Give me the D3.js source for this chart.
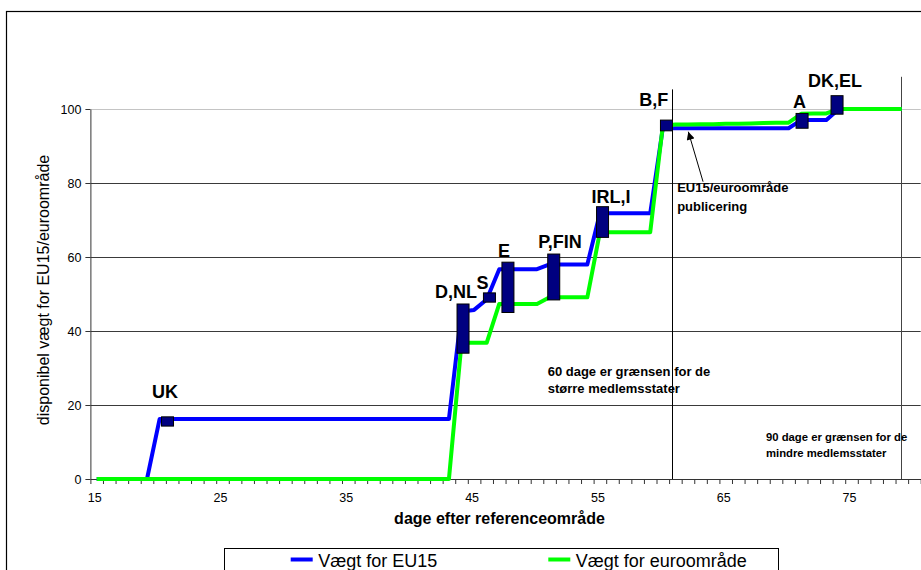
<!DOCTYPE html>
<html><head><meta charset="utf-8">
<script src="https://cdn.jsdelivr.net/npm/d3@7/dist/d3.min.js"></script>
<style>
body{margin:0;background:#fff}
svg{display:block}
text{font-family:"Liberation Sans",Arial,sans-serif;fill:#000}
</style>
</head><body>
<svg id="chart" width="921" height="570"></svg>
<script>
// ---- data ----
const categories = [15,16,17,18,19,20,21,22,23,24,25,26,27,28,29,30,31,32,33,34,35,36,37,38,39,40,41,42,43,44,45,46,47,48,49,50,51,52,53,54,55,56,57,58,59,60,61,62,63,64,65,66,67,68,69,70,71,72,73,74,75,76,77,78,79];
const eu15 = [0,0,0,0,0,
  16.2,16.2,16.2,16.2,16.2,16.2,16.2,16.2,16.2,16.2,16.2,16.2,16.2,16.2,16.2,16.2,16.2,16.2,16.2,16.2,16.2,16.2,16.2,16.2,
  45.3,45.7,48.5,56.7,56.7,56.7,56.7,58,58,58,58,71.8,71.8,71.8,71.8,71.8,
  94.8,94.8,94.8,94.8,94.8,94.8,94.8,94.8,94.8,94.8,94.8,97,97,97,100,100,100,100,100,100];
const euro = [0,0,0,0,0,0,0,0,0,0,0,0,0,0,0,0,0,0,0,0,0,0,0,0,0,0,0,0,0,
  36.8,36.8,36.8,47.3,47.3,47.3,47.3,49.1,49.1,49.1,49.1,66.7,66.7,66.7,66.7,66.7,
  95.5,95.8,95.8,95.9,95.9,96.0,96.0,96.1,96.2,96.3,96.3,98.7,98.8,98.8,100,100,100,100,100,100];
const seriesNames = ["Vægt for EU15","Vægt for euroområde"];
const xTickLabels = [15,25,35,45,55,65,75];
const yTicks = [0,20,40,60,80,100];
// country publication markers (day, high, low) and their labels
const markerNames = ["UK","D,NL","S","E","P,FIN","IRL,I","B,F","A","DK,EL"];
const markerDay   = [20.63,44.12,46.22,47.69,51.33,55.21,60.29,71.07,73.85];
const markerHigh  = [16.8,47.3,50.3,58.6,60.8,73.6,97.0,98.8,103.6];
const markerLow   = [14.3,34.0,47.8,45.0,48.4,65.3,94.1,94.8,98.6];
const labelDay    = [20.43,43.56,45.67,47.38,51.83,55.88,59.28,70.87,73.69];
const labelValue  = [21.9,48.9,51.35,60,62.43,74.6,100.8,100.2,106];
// deadline lines
const limitDay = [60.76,78.94];
const limitTop = [105.3,108.7];
const limitText = [["60 dage er grænsen for de","større medlemsstater"],["90 dage er grænsen for de","mindre medlemsstater"]];
const limitTextDay = [50.85,68.2];
const limitTextValue = [27.8,10.3];
const pubText = ["EU15/euroområde","publicering"];
const pubTextDay = 61.14, pubTextValue = 77.5;
const arrowFrom = [63.2,80.35], arrowTo = [62.03,93.86];
const xTitle = "dage efter referenceområde";
const yTitle = "disponibel vægt for EU15/euroområde";

// ---- layout ----
const svg = d3.select("#chart");
const x = d3.scaleLinear().domain([14.5,80.5]).range([90.4,920.7]);
const y = d3.scaleLinear().domain([0,100]).range([479,109]);
const colors = ["#0000ff","#00ff00"];

// outer frame
svg.append("rect").attr("x",6.5).attr("y",11.5).attr("width",1000).attr("height",1000)
  .attr("fill","none").attr("stroke","#000").attr("stroke-width",1.2);

// gridlines
svg.append("g").selectAll("line").data(yTicks.filter(v=>v>0)).join("line")
  .attr("x1",x(14.5)).attr("x2",x(80.5))
  .attr("y1",d=>Math.round(y(d))+0.5).attr("y2",d=>Math.round(y(d))+0.5)
  .attr("stroke",d=>d===100?"#c4c4c4":"#3a3a3a").attr("stroke-width",1);

// deadline lines
svg.append("g").selectAll("line").data(limitDay).join("line")
  .attr("x1",d=>Math.round(x(d))+0.5).attr("x2",d=>Math.round(x(d))+0.5)
  .attr("y1",(d,i)=>y(limitTop[i])).attr("y2",y(0))
  .attr("stroke",(d,i)=>i===0?"#000":"#444").attr("stroke-width",1);

// axes
const yAxis = svg.append("g").attr("transform",`translate(${x(14.5)},0)`)
  .call(d3.axisLeft(y).tickValues(yTicks).tickSize(5).tickPadding(4).tickSizeOuter(0));
yAxis.selectAll("text").style("font-size","12.5px");
const boundaries = d3.range(0,67).map(k=>14.5+k);
const xAxis = svg.append("g").attr("transform",`translate(0,${y(0)})`)
  .call(d3.axisBottom(x).tickValues(boundaries).tickSize(5).tickFormat("").tickSizeOuter(0));
const xLab = svg.append("g").attr("transform",`translate(-2.5,${y(0)})`)
  .call(d3.axisBottom(x).tickValues(xTickLabels).tickSize(0).tickPadding(14).tickFormat(d3.format("d")));
xLab.select(".domain").remove();
xLab.selectAll("text").style("font-size","12.5px");
[yAxis,xAxis].forEach(g=>{g.selectAll("path,line").attr("stroke","#333");});

// titles
svg.append("text").attr("x",499.5).attr("y",524).attr("text-anchor","middle")
  .style("font-size","16px").style("font-weight","bold").text(xTitle);
svg.append("text").attr("transform","translate(48.5,290) rotate(-90)").attr("text-anchor","middle")
  .style("font-size","16px").text(yTitle);

// series
const line = d3.line().x((d,i)=>x(categories[i])).y(d=>y(d));
[eu15,euro].forEach((s,k)=>{
  svg.append("path").datum(s).attr("d",line).attr("fill","none")
    .attr("stroke",colors[k]).attr("stroke-width",4).attr("stroke-linejoin","round");
});

// markers
const mw = 12;
svg.append("g").selectAll("rect").data(markerNames).join("rect")
  .attr("x",(d,i)=>x(markerDay[i])-mw/2).attr("width",mw)
  .attr("y",(d,i)=>y(markerHigh[i])).attr("height",(d,i)=>y(markerLow[i])-y(markerHigh[i]))
  .attr("fill","#000080").attr("stroke","#000").attr("stroke-width",1);
svg.append("g").selectAll("text").data(markerNames).join("text")
  .attr("x",(d,i)=>x(labelDay[i])).attr("y",(d,i)=>y(labelValue[i]))
  .attr("text-anchor","middle").style("font-size","18px").style("font-weight","bold").text(d=>d);

// deadline texts
const limitFont = [13,11.3], limitLead = [17,16];
limitText.forEach((lines,i)=>{
  const t = svg.append("text").attr("x",x(limitTextDay[i])).attr("y",y(limitTextValue[i]))
    .style("font-size",limitFont[i]+"px").style("font-weight","bold");
  lines.forEach((s,j)=>t.append("tspan").attr("x",x(limitTextDay[i])).attr("dy",j?limitLead[i]+"px":0).text(s));
});
const pt = svg.append("text").attr("x",x(pubTextDay)).attr("y",y(pubTextValue))
  .style("font-size","13px").style("font-weight","bold");
pubText.forEach((s,j)=>pt.append("tspan").attr("x",x(pubTextDay)).attr("dy",j?"19px":0).text(s));

// arrow
svg.append("defs").append("marker").attr("id","ah").attr("viewBox","0 0 10 10")
  .attr("refX",10).attr("refY",5).attr("markerWidth",10).attr("markerHeight",8)
  .attr("markerUnits","userSpaceOnUse").attr("orient","auto")
  .append("path").attr("d","M0,0L10,5L0,10Z").attr("fill","#000");
svg.append("line").attr("x1",x(arrowFrom[0])).attr("y1",y(arrowFrom[1]))
  .attr("x2",x(arrowTo[0])).attr("y2",y(arrowTo[1]))
  .attr("stroke","#000").attr("stroke-width",1).attr("marker-end","url(#ah)");

// legend
const lg = svg.append("g");
lg.append("rect").attr("x",224.5).attr("y",548.5).attr("width",554).attr("height",40)
  .attr("fill","#fff").attr("stroke","#000").attr("stroke-width",1);
const legX = [290.7,548.3];
seriesNames.forEach((n,k)=>{
  lg.append("line").attr("x1",legX[k]).attr("x2",legX[k]+22).attr("y1",559.5).attr("y2",559.5)
    .attr("stroke",colors[k]).attr("stroke-width",4);
  lg.append("text").attr("x",legX[k]+27.5).attr("y",566.5).style("font-size","18px").text(n);
});
</script>
</body></html>
